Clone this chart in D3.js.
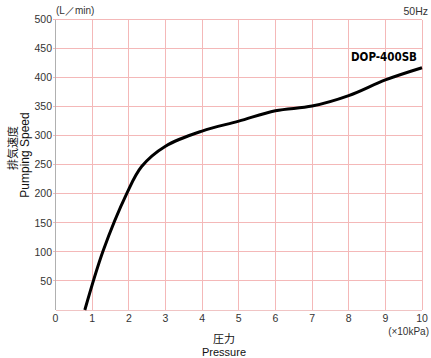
<!DOCTYPE html>
<html><head><meta charset="utf-8">
<script src="https://cdn.jsdelivr.net/npm/d3@7"></script>
<style>body{margin:0;background:#fff}svg{display:block}</style>
</head><body><svg id="c" width="431" height="358"></svg>
<script>
const xTicks = [0,1,2,3,4,5,6,7,8,9,10];
const yTicks = [50,100,150,200,250,300,350,400,450,500];
const pressure = [0.8,1.3,1.94,2.35,3.0,4.0,5.0,6.0,7.0,8.0,9.0,10.0];
const speed    = [0,102,200,247,282,308,325,343,351,369,396,417];
const seriesName = "DOP-400SB";

const svg = d3.select("#c");
const x = d3.scaleLinear().domain([0,10]).range([55.5,422]);
const y = d3.scaleLinear().domain([0,500]).range([310,19.5]);
const grid = "#f4b8b8", txt = "#333", font = "Liberation Sans, Arial, sans-serif";

// grid
svg.append("g").selectAll("line").data(yTicks).join("line")
  .attr("x1", x(0)-3).attr("x2", x(10)).attr("y1", d=>y(d)).attr("y2", d=>y(d))
  .attr("stroke", grid).attr("stroke-width",1).attr("shape-rendering","crispEdges");
svg.append("g").selectAll("line").data(xTicks.slice(1)).join("line")
  .attr("x1", d=>x(d)).attr("x2", d=>x(d)).attr("y1", y(0)).attr("y2", y(500))
  .attr("stroke", grid).attr("stroke-width",1).attr("shape-rendering","crispEdges");
// axes lines
svg.append("line").attr("x1",x(0)).attr("x2",x(10)).attr("y1",y(0)).attr("y2",y(0))
  .attr("stroke","#f0c4c4").attr("shape-rendering","crispEdges");
svg.append("line").attr("x1",x(0)).attr("x2",x(0)).attr("y1",y(0)).attr("y2",y(500))
  .attr("stroke","#b0b0b0").attr("shape-rendering","crispEdges");

// tick labels
svg.append("g").selectAll("text").data(yTicks).join("text")
  .attr("x", 52).attr("y", d=>y(d)).attr("dy","0.35em").attr("text-anchor","end")
  .attr("font-family",font).attr("font-size",10.5).attr("fill",txt).text(d=>d);
svg.append("g").selectAll("text").data(xTicks).join("text")
  .attr("x", d=>x(d)).attr("y", 322).attr("text-anchor","middle")
  .attr("font-family",font).attr("font-size",10.5).attr("fill",txt).text(d=>d);

// units & titles
svg.append("text").attr("x",56).attr("y",14).attr("font-family",font).attr("font-size",10)
  .attr("fill",txt).text("(L／min)");
svg.append("text").attr("x",428).attr("y",15).attr("text-anchor","end").attr("font-family",font)
  .attr("font-size",10.5).attr("fill",txt).text("50Hz");
svg.append("text").attr("x",429).attr("y",335).attr("text-anchor","end").attr("font-family",font)
  .attr("font-size",10).attr("fill",txt).text("(×10kPa)");
svg.append("text").attr("x",224).attr("y",343).attr("text-anchor","middle")
  .attr("font-family","Noto Sans CJK JP, sans-serif").attr("font-size",11).attr("fill","#111").text("圧力");
svg.append("text").attr("x",224).attr("y",356).attr("text-anchor","middle")
  .attr("font-family",font).attr("font-size",11).attr("fill","#111").text("Pressure");
svg.append("text").attr("transform","translate(16.5,148) rotate(-90)").attr("text-anchor","middle")
  .attr("font-family","Noto Sans CJK JP, sans-serif").attr("font-size",11).attr("fill","#111").text("排気速度");
svg.append("text").attr("transform","translate(29,155) rotate(-90)").attr("text-anchor","middle")
  .attr("font-family",font).attr("font-size",12).attr("fill","#111").text("Pumping Speed");

// curve
const pts = pressure.map((p,i)=>[p,speed[i]]);
svg.append("path").datum(pts)
  .attr("d", d3.line().x(d=>x(d[0])).y(d=>y(d[1])).curve(d3.curveCatmullRom.alpha(0.5)))
  .attr("fill","none").attr("stroke","#000").attr("stroke-width",3).attr("stroke-linecap","butt");

svg.append("text").attr("x",417).attr("y",61).attr("text-anchor","end")
  .attr("font-family","DejaVu Sans Condensed, DejaVu Sans, sans-serif").attr("font-weight","bold")
  .attr("font-stretch","condensed").attr("font-size",11.5).attr("fill","#000").text(seriesName);
</script></body></html>
